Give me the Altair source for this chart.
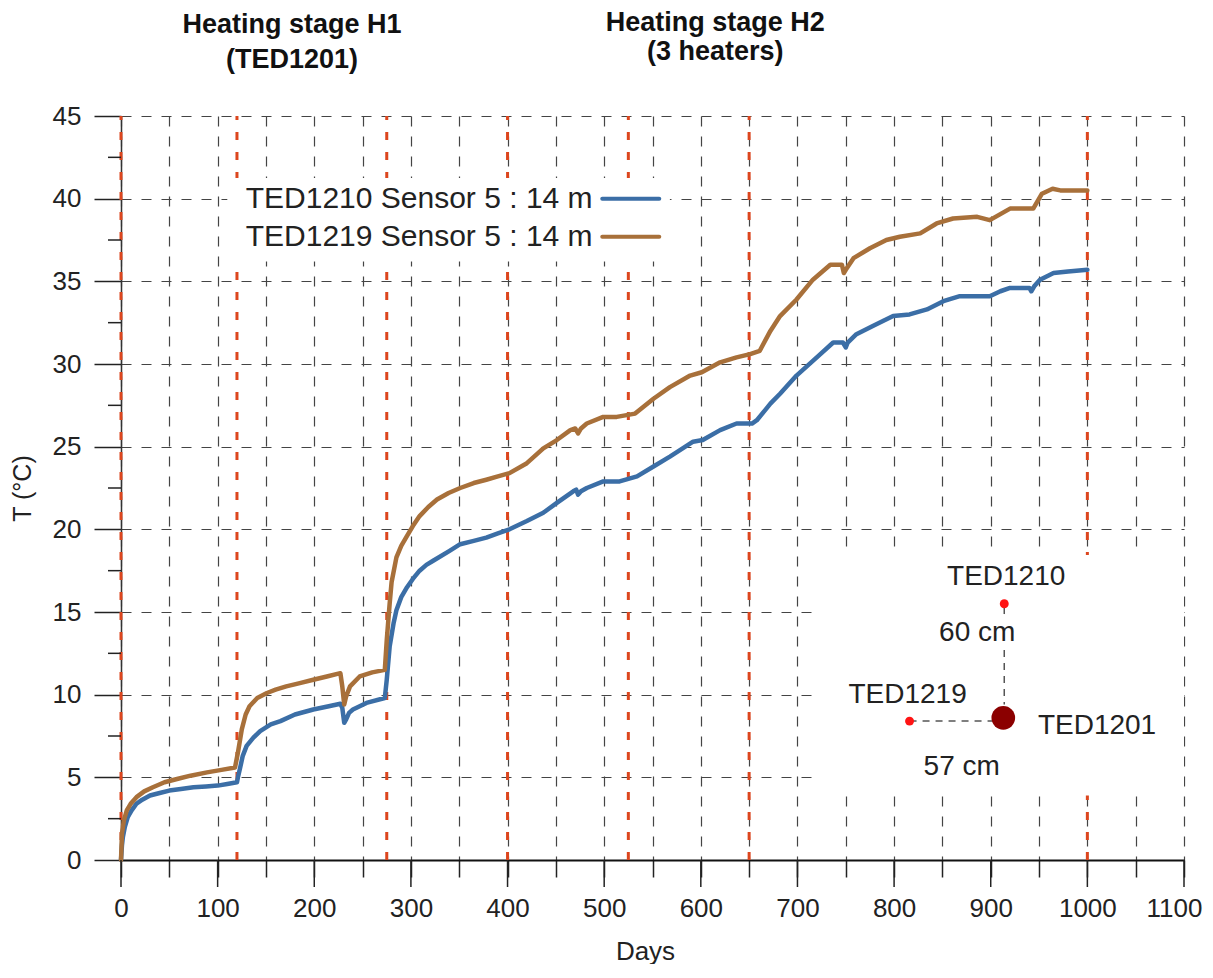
import altair as alt
import pandas as pd

W, H = 1063, 744
FONT = "Liberation Sans"
TXT = "#222222"

# ---- data ----
days_1210 = [0, 1, 2, 4, 7, 11, 16, 22, 30, 40, 50, 62, 75, 88, 100, 110, 120, 121, 123, 126, 130, 137, 144,
             155, 165, 180, 199, 215, 227, 229, 231, 233, 236, 240, 254, 273, 275, 278, 282, 285, 290, 296,
             302, 309, 316, 323, 340, 351, 365, 378, 390, 402, 420, 437, 451, 468, 471, 473, 476, 482, 499,
             516, 534, 551, 568, 592, 602, 620, 637, 653, 658, 672, 682, 699, 720, 737, 747, 750, 752, 761,
             778, 799, 816, 834, 851, 868, 886, 899, 910, 920, 940, 942, 945, 951, 965, 980, 1000]
temp_1210 = [0, 0.9, 1.4, 2.0, 2.6, 3.0, 3.4, 3.65, 3.9, 4.05, 4.2, 4.3, 4.4, 4.45, 4.5, 4.6, 4.7, 5.0, 5.5,
             6.3, 6.9, 7.4, 7.8, 8.2, 8.4, 8.8, 9.1, 9.3, 9.45, 9.2, 8.3, 8.5, 8.9, 9.1, 9.5, 9.8, 10.9, 12.9,
             14.3, 15.1, 15.9, 16.5, 17.0, 17.5, 17.85, 18.1, 18.7, 19.1, 19.3, 19.5, 19.75, 20.0, 20.5, 21.0, 21.6,
             22.3, 22.4, 22.1, 22.3, 22.5, 22.9, 22.9, 23.2, 23.8, 24.4, 25.3, 25.4, 26.0, 26.4, 26.4, 26.6, 27.6,
             28.2, 29.3, 30.4, 31.3, 31.3, 31.0, 31.3, 31.8, 32.3, 32.9, 33.0, 33.3, 33.8, 34.1, 34.1, 34.1, 34.4,
             34.6, 34.6, 34.4, 34.7, 35.1, 35.5, 35.6, 35.7]

days_1219 = [0, 1, 3, 6, 10, 16, 24, 33, 45, 58, 72, 89, 104, 118, 121, 125, 129, 133, 141, 151, 160, 171,
             185, 199, 213, 227, 229, 231, 233, 237, 247, 260, 273, 275, 278, 280, 285, 290, 296, 302, 309,
             318, 327, 339, 351, 365, 378, 390, 402, 420, 437, 451, 465, 470, 473, 476, 482, 499, 513, 532,
             551, 568, 589, 601, 620, 637, 651, 661, 672, 682, 699, 716, 734, 746, 748, 750, 758, 775, 792,
             806, 827, 844, 861, 886, 899, 920, 944, 953, 964, 972, 1000]
temp_1219 = [0, 1.6, 2.4, 3.0, 3.4, 3.8, 4.15, 4.4, 4.7, 4.9, 5.1, 5.3, 5.45, 5.6, 6.5, 7.9, 8.8, 9.3, 9.8,
             10.1, 10.3, 10.5, 10.7, 10.9, 11.1, 11.3, 10.5, 9.4, 9.9, 10.5, 11.1, 11.35, 11.5, 13.3, 15.5, 16.8,
             18.3, 19.0, 19.6, 20.2, 20.8, 21.35, 21.8, 22.2, 22.5, 22.8, 23.0, 23.2, 23.4, 24.0, 24.9, 25.4, 26.0,
             26.1, 25.8, 26.1, 26.4, 26.8, 26.8, 27.0, 27.9, 28.6, 29.3, 29.5, 30.1, 30.4, 30.6, 30.8, 32.0, 32.9,
             33.9, 35.1, 36.0, 36.0, 35.5, 35.7, 36.4, 37.0, 37.5, 37.7, 37.9, 38.5, 38.8, 38.9, 38.7, 39.4, 39.4,
             40.3, 40.6, 40.5, 40.5]

series_names = ["TED1210 Sensor 5 : 14 m", "TED1219 Sensor 5 : 14 m"]
series_colors = ["#3b6ea6", "#a8703a"]

stage_days = [0, 120, 275, 400, 525, 650, 1000]

x_ticks = list(range(0, 1101, 50))
x_major = list(range(0, 1101, 100))
y_major = list(range(0, 46, 5))
y_minor = [2.5, 7.5, 12.5, 17.5, 22.5, 27.5, 32.5, 37.5, 42.5]

# legend (inside plot)
legend_text_day = 488
legend_line_day = [498, 557]
legend_temps = [40.0, 37.7]

# white areas hiding the grid behind legend and inset
box_x1 = [110, 723]
box_x2 = [568, 1100]
box_y1 = [36.2, 3.9]
box_y2 = [41.25, 18.45]

# inset diagram
dot_days = [914, 816, 913]
dot_temps = [15.5, 8.4, 8.6]
dot_sizes = [80, 80, 560]
dot_colors = ["#ff1414", "#ff1414", "#8b0000"]
seg_x1 = [914, 914, 816]
seg_x2 = [914, 914, 902]
seg_y1 = [15.3, 12.7, 8.4]
seg_y2 = [14.6, 9.4, 8.4]
inset_labels = ["TED1210", "60 cm", "TED1219", "TED1201", "57 cm"]
inset_days = [916, 886, 814, 1010, 870]
inset_temps = [17.1, 13.7, 10.0, 8.1, 5.6]

# headers above the plot
header_lines = ["Heating stage H1", "(TED1201)", "Heating stage H2", "(3 heaters)"]
header_days = [177, 177, 615, 615]
header_temps = [50.5, 48.4, 50.65, 48.85]

# ---- tables ----
curves = pd.DataFrame({
    "day": days_1210 + days_1219,
    "temp": temp_1210 + temp_1219,
    "series": [series_names[0]] * len(days_1210) + [series_names[1]] * len(days_1219),
})
stages = pd.DataFrame({"day": stage_days, "temp": [0] * len(stage_days), "hi": [45] * len(stage_days)})
boxes = pd.DataFrame({"day": box_x1, "x2": box_x2, "temp": box_y1, "y2": box_y2})
legend_df = pd.DataFrame({"series": series_names, "temp": legend_temps,
                          "tx": [legend_text_day] * 2,
                          "day": [legend_line_day[0]] * 2, "lx2": [legend_line_day[1]] * 2})
dots = pd.DataFrame({"day": dot_days, "temp": dot_temps, "size": dot_sizes, "col": dot_colors})
segs = pd.DataFrame({"day": seg_x1, "x2": seg_x2, "temp": seg_y1, "y2": seg_y2})
inset_txt = pd.DataFrame({"label": inset_labels, "day": inset_days, "temp": inset_temps})
headers = pd.DataFrame({"label": header_lines, "day": header_days, "temp": header_temps})
xmaj = pd.DataFrame({"day": x_major})
ymin = pd.DataFrame({"temp": y_minor})

xs = alt.Scale(domain=[0, 1100], nice=False, zero=False)
ys = alt.Scale(domain=[0, 45], nice=False, zero=False)
color_scale = alt.Scale(domain=series_names, range=series_colors)

xaxis = alt.Axis(values=x_ticks, title="Days", format="d",
                 labelExpr="datum.value % 100 === 0 ? datum.label : ''",
                 labelOffset={"condition": {"test": "datum.value === 1100", "value": -10}, "value": 0},
                 grid=True, gridDash=[10, 10], gridColor="#444444", gridWidth=1.2,
                 tickSize=17, tickColor="#222222", tickWidth=1.5,
                 domainColor="#111111", domainWidth=2,
                 labelFont=FONT, labelFontSize=26, labelColor=TXT, labelPadding=18,
                 labelFlush=False, labelOverlap=False,
                 titleFont=FONT, titleFontSize=26, titleFontWeight="normal", titleColor=TXT,
                 titleX=524, titleY=99, titleBaseline="alphabetic", titleAlign="center")
yaxis = alt.Axis(values=y_major, title="T (°C)", format="d",
                 grid=True, gridDash=[10, 10], gridColor="#444444", gridWidth=1.2,
                 tickSize=27, tickColor="#222222", tickWidth=1.5,
                 domainColor="#333333", domainWidth=1.5,
                 labelFont=FONT, labelFontSize=26, labelColor=TXT, labelPadding=13,
                 labelFlush=False, labelOverlap=False,
                 titleFont=FONT, titleFontSize=25, titleFontWeight="normal", titleColor=TXT,
                 titleX=-99, titleY=372, titleBaseline="middle", titleAlign="center")

X = alt.X("day:Q", scale=xs, axis=xaxis, title="Days")
Y = alt.Y("temp:Q", scale=ys, axis=yaxis, title="T (°C)")

stage_layer = alt.Chart(stages).mark_rule(color="#dc461e", strokeWidth=3, strokeDash=[8, 12]).encode(
    x=X, y=Y, y2="hi:Q",
)

box_layer = alt.Chart(boxes).mark_rect(color="white").encode(
    x=X, x2="x2:Q", y=Y, y2="y2:Q",
)

curve_layer = alt.Chart(curves).mark_line(strokeWidth=4.5, strokeCap="round", strokeJoin="round").encode(
    x=X, y=Y,
    color=alt.Color("series:N", scale=color_scale, legend=None),
)

legend_lines = alt.Chart(legend_df).mark_rule(strokeWidth=4, strokeCap="round").encode(
    x=X, x2="lx2:Q", y=Y,
    color=alt.Color("series:N", scale=color_scale, legend=None),
)
legend_text = alt.Chart(legend_df).mark_text(align="right", baseline="middle", font=FONT,
                                             fontSize=30, color=TXT).encode(
    x=alt.X("tx:Q", scale=xs, axis=xaxis, title="Days"), y=Y,
    text="series:N",
)

seg_layer = alt.Chart(segs).mark_rule(color="#555555", strokeWidth=1.5, strokeDash=[7, 6]).encode(
    x=X, x2="x2:Q", y=Y, y2="y2:Q",
)
dot_layer = alt.Chart(dots).mark_circle(opacity=1).encode(
    x=X, y=Y,
    size=alt.Size("size:Q", scale=None, legend=None),
    color=alt.Color("col:N", scale=None, legend=None),
)
inset_text_layer = alt.Chart(inset_txt).mark_text(align="center", baseline="middle", font=FONT,
                                                  fontSize=28, color=TXT).encode(
    x=X, y=Y, text="label:N",
)

header_layer = alt.Chart(headers).mark_text(align="center", baseline="middle", font=FONT,
                                            fontSize=27, fontWeight="bold", color="#111111").encode(
    x=X, y=Y, text="label:N",
)

xmaj_layer = alt.Chart(xmaj).mark_rule(color="#222222", strokeWidth=1.5).encode(
    x=X, y=alt.value(H), y2=alt.value(H + 27),
)
ymin_layer = alt.Chart(ymin).mark_rule(color="#222222", strokeWidth=1.5).encode(
    y=Y, x=alt.value(-13), x2=alt.value(0),
)

chart = alt.layer(
    stage_layer, box_layer, curve_layer, legend_lines, legend_text,
    seg_layer, dot_layer, inset_text_layer, header_layer, xmaj_layer, ymin_layer,
).properties(
    width=W, height=H,
    padding={"left": 113, "top": 108, "right": 21, "bottom": 104},
    autosize=alt.AutoSizeParams(type="none"),
    background="white",
).configure_view(stroke=None)

chart.save("out.html", embed_options={"renderer": "svg", "actions": False})
